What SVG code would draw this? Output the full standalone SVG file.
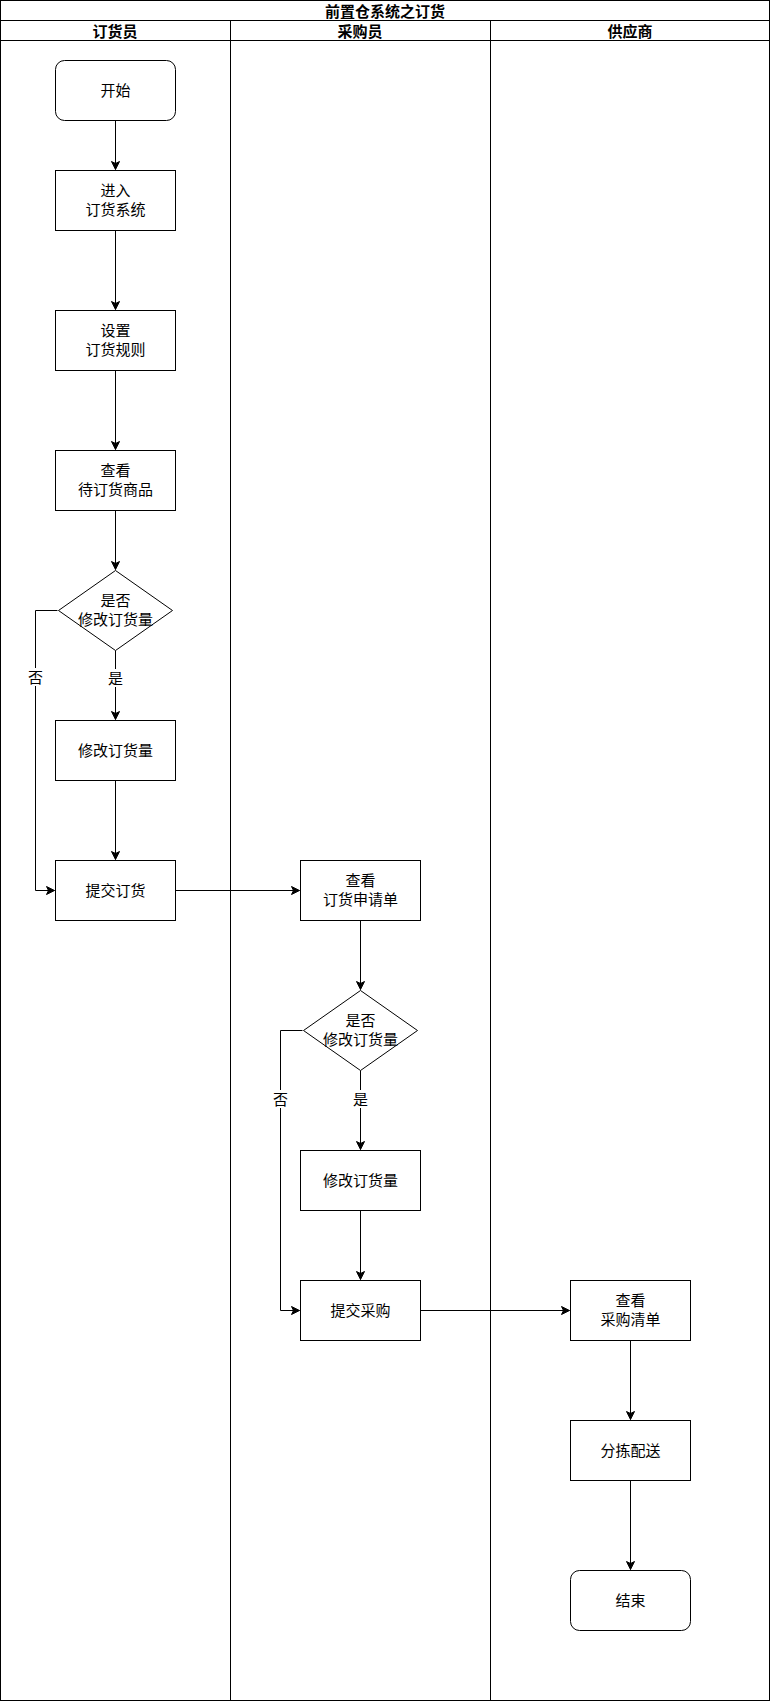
<svg xmlns="http://www.w3.org/2000/svg" width="771" height="1701" viewBox="0 0 771 1701">
<style>
  text{font-family:"Noto Sans CJK SC","Noto Sans",sans-serif;font-size:15px;fill:#000;text-anchor:middle;dominant-baseline:central}
  .hd{font-weight:bold}
  .node{fill:#fff;stroke:#000;stroke-width:1}
  .ln{fill:none;stroke:#000;stroke-width:1}
  .lbl{fill:#fff;stroke:none}
</style>
<defs>
  <marker id="arr" markerWidth="10" markerHeight="10" refX="9" refY="5" orient="auto" markerUnits="userSpaceOnUse">
    <path d="M1,1 L9,5 L1,9 L3,5 z" fill="#000" stroke="#000" stroke-width="1"/>
  </marker>
</defs>
<rect width="771" height="1701" fill="#fff"/>
<g id="pool">
  <rect x="0.5" y="0.5" width="769" height="1700" fill="none" stroke="#000"/>
  <line x1="0.5" y1="20.5" x2="769.5" y2="20.5" stroke="#000"/>
  <line x1="0.5" y1="40.5" x2="769.5" y2="40.5" stroke="#000"/>
  <line x1="230.5" y1="20.5" x2="230.5" y2="1700.5" stroke="#000"/>
  <line x1="490.5" y1="20.5" x2="490.5" y2="1700.5" stroke="#000"/>
  <text class="hd" x="385" y="10">前置仓系统之订货</text>
  <text class="hd" x="115" y="30">订货员</text>
  <text class="hd" x="360" y="30">采购员</text>
  <text class="hd" x="630" y="30">供应商</text>
</g>
<g id="edges">
  <path class="ln" d="M115.5,120.5 V169.5" marker-end="url(#arr)"/>
  <path class="ln" d="M115.5,230.5 V309.5" marker-end="url(#arr)"/>
  <path class="ln" d="M115.5,370.5 V449.5" marker-end="url(#arr)"/>
  <path class="ln" d="M115.5,510.5 V569.5" marker-end="url(#arr)"/>
  <path class="ln" d="M115.5,650.5 V719.5" marker-end="url(#arr)"/>
  <path class="ln" d="M57.5,610.5 H35.5 V890.5 H54.5" marker-end="url(#arr)"/>
  <path class="ln" d="M115.5,780.5 V859.5" marker-end="url(#arr)"/>
  <path class="ln" d="M175.5,890.5 H299.5" marker-end="url(#arr)"/>
  <path class="ln" d="M360.5,920.5 V989.5" marker-end="url(#arr)"/>
  <path class="ln" d="M360.5,1070.5 V1149.5" marker-end="url(#arr)"/>
  <path class="ln" d="M302.5,1030.5 H280.5 V1310.5 H299.5" marker-end="url(#arr)"/>
  <path class="ln" d="M360.5,1210.5 V1279.5" marker-end="url(#arr)"/>
  <path class="ln" d="M420.5,1310.5 H569.5" marker-end="url(#arr)"/>
  <path class="ln" d="M630.5,1340.5 V1419.5" marker-end="url(#arr)"/>
  <path class="ln" d="M630.5,1480.5 V1569.5" marker-end="url(#arr)"/>
  <rect class="lbl" x="27" y="668" width="17" height="18"/>
  <text x="35.5" y="676.5">否</text>
  <rect class="lbl" x="107" y="669" width="17" height="18"/>
  <text x="115.5" y="677.5">是</text>
  <rect class="lbl" x="272" y="1090" width="17" height="18"/>
  <text x="280.5" y="1098.5">否</text>
  <rect class="lbl" x="352" y="1090" width="17" height="18"/>
  <text x="360.5" y="1098.5">是</text>
</g>
<g id="start">
  <rect class="node" x="55.5" y="60.5" width="120" height="60" rx="9"/>
  <text x="115.5" y="89">开始</text>
</g>
<g id="enter">
  <rect class="node" x="55.5" y="170.5" width="120" height="60"/>
  <text x="115.5" y="189.5">进入</text>
  <text x="115.5" y="208.5">订货系统</text>
</g>
<g id="rules">
  <rect class="node" x="55.5" y="310.5" width="120" height="60"/>
  <text x="115.5" y="329.5">设置</text>
  <text x="115.5" y="348.5">订货规则</text>
</g>
<g id="view">
  <rect class="node" x="55.5" y="450.5" width="120" height="60"/>
  <text x="115.5" y="469.5">查看</text>
  <text x="115.5" y="488.5">待订货商品</text>
</g>
<g id="dec1">
  <path class="node" d="M115.5,570.5 L172.5,610.5 L115.5,650.5 L58.5,610.5 Z"/>
  <text x="115.5" y="599.5">是否</text>
  <text x="115.5" y="618.5">修改订货量</text>
</g>
<g id="mod1">
  <rect class="node" x="55.5" y="720.5" width="120" height="60"/>
  <text x="115.5" y="749">修改订货量</text>
</g>
<g id="submit1">
  <rect class="node" x="55.5" y="860.5" width="120" height="60"/>
  <text x="115.5" y="889">提交订货</text>
</g>
<g id="viewreq">
  <rect class="node" x="300.5" y="860.5" width="120" height="60"/>
  <text x="360.5" y="879.5">查看</text>
  <text x="360.5" y="898.5">订货申请单</text>
</g>
<g id="dec2">
  <path class="node" d="M360.5,990.5 L417.5,1030.5 L360.5,1070.5 L303.5,1030.5 Z"/>
  <text x="360.5" y="1019.5">是否</text>
  <text x="360.5" y="1038.5">修改订货量</text>
</g>
<g id="mod2">
  <rect class="node" x="300.5" y="1150.5" width="120" height="60"/>
  <text x="360.5" y="1179">修改订货量</text>
</g>
<g id="submit2">
  <rect class="node" x="300.5" y="1280.5" width="120" height="60"/>
  <text x="360.5" y="1309">提交采购</text>
</g>
<g id="viewlist">
  <rect class="node" x="570.5" y="1280.5" width="120" height="60"/>
  <text x="630.5" y="1299.5">查看</text>
  <text x="630.5" y="1318.5">采购清单</text>
</g>
<g id="sort">
  <rect class="node" x="570.5" y="1420.5" width="120" height="60"/>
  <text x="630.5" y="1449">分拣配送</text>
</g>
<g id="end">
  <rect class="node" x="570.5" y="1570.5" width="120" height="60" rx="9"/>
  <text x="630.5" y="1599">结束</text>
</g>
</svg>
